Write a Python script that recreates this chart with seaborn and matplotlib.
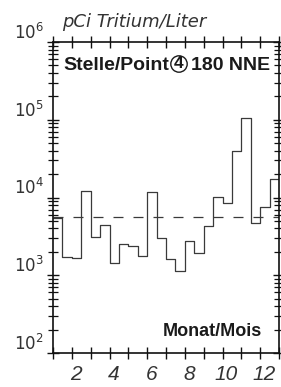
import numpy as np
import pandas as pd
import seaborn as sns
import matplotlib
matplotlib.use("Agg")
import matplotlib.pyplot as plt
import matplotlib.transforms as mtrans
from matplotlib.ticker import LogLocator, NullFormatter

# half-month sampling periods (start of each period, in months)
period_start = [1.0, 1.5, 2.0, 2.5, 3.0, 3.5, 4.0, 4.5, 5.0, 5.5, 6.0, 6.5,
                7.0, 7.5, 8.0, 8.5, 9.0, 9.5, 10.0, 10.5, 11.0, 11.5, 12.0, 12.5]
period_end = 13.0
tritium = [5450, 1740, 1690, 12100, 3130, 4430, 1450, 2520, 2380, 1780, 11900, 3010,
           1620, 1130, 2780, 1950, 4340, 10200, 8570, 39600, 106000, 4740, 7550, 17300]
mean_level = 5550

month_ticks = list(range(1, 14))
month_labels = ["", "2", "", "4", "", "6", "", "8", "", "10", "", "12", ""]
decades = [1e2, 1e3, 1e4, 1e5, 1e6]
decade_labels = [r"$\mathit{10}^{\mathit{%d}}$" % e for e in [2, 3, 4, 5, 6]]

sns.set_style("ticks")
plt.rcParams["font.family"] = ["Liberation Sans", "DejaVu Sans"]
plt.rcParams["mathtext.fontset"] = "dejavusans"

df = pd.DataFrame({"month": period_start + [period_end],
                   "pci": tritium + [tritium[-1]]})

fig = plt.figure(figsize=(2.81, 3.87), dpi=100)
ax = fig.add_axes([53 / 281, 34 / 387, 226 / 281, 311 / 387])

ink = "#3a3a3a"
sns.lineplot(data=df, x="month", y="pci", drawstyle="steps-post",
             color=ink, lw=0.9, ax=ax)
ax.axhline(mean_level, color=ink, lw=0.9, dashes=(8, 8))

ax.set_yscale("log")
ax.set_xlim(1, 13)
ax.set_ylim(1e2, 1e6)
ax.set_xlabel("")
ax.set_ylabel("")

ax.set_xticks(month_ticks, labels=month_labels)
ax.set_yticks(decades, labels=decade_labels)
ax.yaxis.set_minor_locator(LogLocator(base=10, subs=np.arange(2, 10)))
ax.yaxis.set_minor_formatter(NullFormatter())

ax.tick_params(axis="x", which="major", direction="inout", length=9, width=1,
               top=True, bottom=True, labelsize=15, pad=4, color="#111",
               labelcolor="#333")
ax.tick_params(axis="y", which="major", direction="inout", length=9, width=1,
               left=True, right=True, labelsize=12, pad=2, color="#111",
               labelcolor="#333")
ax.tick_params(axis="y", which="minor", direction="inout", length=7, width=0.9,
               left=True, right=True, color="#111")
shift = mtrans.ScaledTranslation(4 / 100, 0, fig.dpi_scale_trans)
for lab in ax.get_xticklabels():
    lab.set_fontstyle("italic")
    lab.set_transform(lab.get_transform() + shift)
for lab in ax.get_yticklabels():
    lab.set_verticalalignment("bottom")

for side in ["left", "right", "top", "bottom"]:
    ax.spines[side].set_visible(True)
    ax.spines[side].set_linewidth(1.2)
    ax.spines[side].set_color("#111")

fig.text(62 / 281, 1 - 27 / 387, "pCi Tritium/Liter", family="DejaVu Sans",
         style="italic", fontsize=13, color="#333", va="baseline")

bold = dict(family="Liberation Sans", weight="bold", color="#1a1a1a")
fig.text(63 / 281, 1 - 70 / 387, "Stelle/Point", va="baseline", fontsize=14, **bold)
fig.text(179 / 281, 1 - 64 / 387, "4", ha="center", va="center", fontsize=12.5,
         bbox=dict(boxstyle="circle,pad=0.04", fc="white", ec="#1a1a1a", lw=1.0),
         **bold)
fig.text(191 / 281, 1 - 70 / 387, "180 NNE", va="baseline", fontsize=14, **bold)
fig.text(262 / 281, 1 - 336 / 387, "Monat/Mois", ha="right", va="baseline",
         fontsize=13, **bold)

fig.savefig("out.png", dpi=100)
